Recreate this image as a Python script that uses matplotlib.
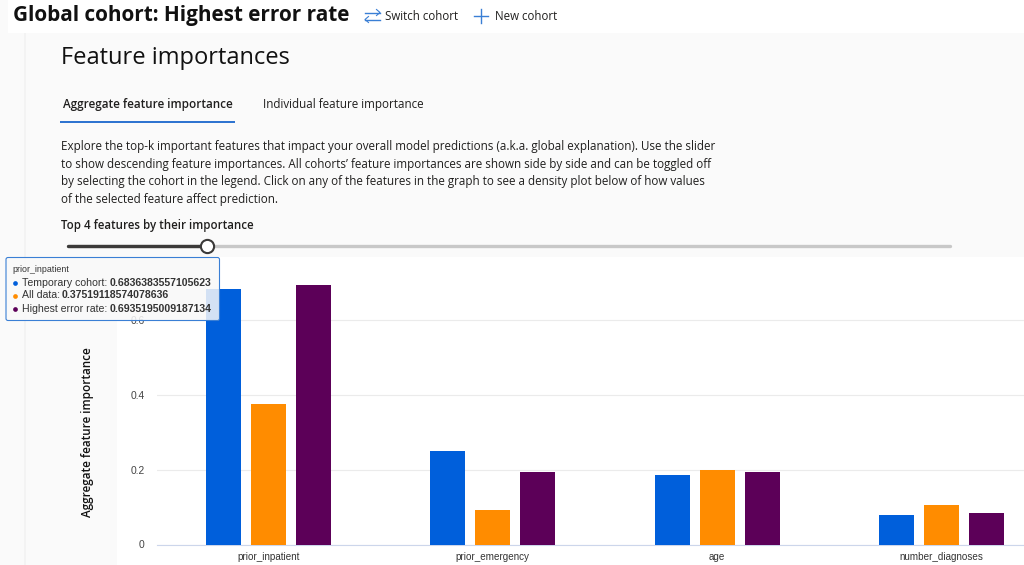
"""Feature importances dashboard screenshot"""

import matplotlib
matplotlib.use('Agg')
import matplotlib.pyplot as plt
from matplotlib.patches import FancyBboxPatch, Rectangle
import numpy as np

features = ['prior_inpatient', 'prior_emergency', 'age', 'number_diagnoses']
cohorts = ['Temporary cohort', 'All data', 'Highest error rate']
temporary_cohort = [0.6836383557105623, 0.25, 0.185, 0.08]
all_data = [0.37519118574078636, 0.093, 0.2, 0.106]
highest_error = [0.6935195009187134, 0.195, 0.195, 0.085]
y_ticks = [0, 0.2, 0.4, 0.6]
y_tick_labels = ['0', '0.2', '0.4', '0.6']
tooltip_values = ['0.6836383557105623', '0.37519118574078636', '0.6935195009187134']

description = [
    'Explore the top-k important features that impact your overall model predictions (a.k.a. global explanation). Use the slider',
    'to show descending feature importances. All cohorts\u2019 feature importances are shown side by side and can be toggled off',
    'by selecting the cohort in the legend. Click on any of the features in the graph to see a density plot below of how values',
    'of the selected feature affect prediction.',
]

BLUE = '#005fdb'
ORANGE = '#ff8c00'
PURPLE = '#5c0058'
UI_FONT = 'Open Sans'
CHART_FONT = 'Liberation Sans'

W, H = 1024, 565
fig = plt.figure(figsize=(W / 100, H / 100), dpi=100, facecolor='white')

# ページ全体はピクセル座標で描く
bg = fig.add_axes([0, 0, 1, 1], zorder=0)
bg.set_xlim(0, W)
bg.set_ylim(H, 0)
bg.axis('off')
bg.add_patch(Rectangle((0, 33), W, H - 33, fc='#fafafa', ec='none'))
bg.add_patch(Rectangle((0, 0), 8, 33, fc='#fafafa', ec='none'))
bg.add_patch(Rectangle((24, 33), 2, H - 33, fc='#f3f3f3', ec='none'))
bg.add_patch(Rectangle((117, 257), W - 117, H - 257, fc='white', ec='none'))

# 棒グラフ
left, right, top, bottom = 157, W, 257, 544.5
ax = fig.add_axes([left / W, 1 - bottom / H, (right - left) / W, (bottom - top) / H],
                  zorder=1, facecolor='none')
step = 224.3
ax.set_xlim((left - 268.5) / step, (right - 268.5) / step)
ax.set_ylim(0, (bottom - top) / 373.5)
x = np.arange(len(features))
bar_w = 35 / step
off = 45 / step
ax.bar(x - off, temporary_cohort, bar_w, color=BLUE, zorder=3)
ax.bar(x, all_data, bar_w, color=ORANGE, zorder=3)
ax.bar(x + off, highest_error, bar_w, color=PURPLE, zorder=3)
ax.set_xticks(x)
ax.set_xticklabels(features, fontsize=7.1, color='#333333', family=CHART_FONT)
ax.set_yticks(y_ticks)
ax.set_yticklabels(y_tick_labels, fontsize=7.4, color='#444444', family=CHART_FONT)
ax.tick_params(length=0)
ax.tick_params(axis='x', pad=5.5)
ax.tick_params(axis='y', pad=9)
ax.grid(axis='y', color='#ebebeb', lw=0.8, zorder=0)
for s in ['top', 'right', 'left']:
    ax.spines[s].set_visible(False)
ax.spines['bottom'].set_color('#ccd6eb')
ax.spines['bottom'].set_linewidth(0.8)

# 上に重ねるUI部品
ui = fig.add_axes([0, 0, 1, 1], zorder=2, facecolor='none')
ui.set_xlim(0, W)
ui.set_ylim(H, 0)
ui.axis('off')


def label(px, py, s, size, weight='normal', color='#201f1e', family=UI_FONT, **kw):
    ui.text(px, py, s, fontsize=size, fontweight=weight, color=color, family=family,
            va='center', ha=kw.pop('ha', 'left'), **kw)


label(13, 15.5, 'Global cohort: Highest error rate', 14.97, 'bold', '#111111')
ui.plot([365, 380], [12.5, 12.5], color='#3a7fd5', lw=1)
ui.plot([365, 380], [19.5, 19.5], color='#3a7fd5', lw=1)
ui.plot([376.5, 380, 376.5], [9.5, 12.5, 15.5], color='#3a7fd5', lw=0.8)
ui.plot([368.5, 365, 368.5], [16.5, 19.5, 22.5], color='#3a7fd5', lw=0.8)
label(385, 16, 'Switch cohort', 8.3)
ui.plot([474, 488], [16, 16], color='#3a7fd5', lw=1)
ui.plot([481, 481], [9, 23], color='#3a7fd5', lw=1)
label(495, 16, 'New cohort', 8.3)

label(61, 57.5, 'Feature importances', 17, 'medium', '#111111')
label(63, 104.5, 'Aggregate feature importance', 8.4, 'semibold')
label(263, 104.5, 'Individual feature importance', 8.4)
ui.add_patch(Rectangle((60, 121), 175, 2, fc='#2f74d0', ec='none'))

for i, line in enumerate(description):
    label(61, 146.5 + i * 17.6, line, 8.36)
label(61, 225.5, 'Top 4 features by their importance', 8.3, 'semibold')

# スライダー
ui.plot([68, 950], [245.5, 245.5], color='#c8c8c8', lw=2.4, solid_capstyle='round')
ui.plot([68, 207], [245.5, 245.5], color='#3b3a39', lw=2.4, solid_capstyle='round')
ui.plot([207], [245.5], 'o', ms=9.5, mfc='white', mec='#3b3a39', mew=1.5)

# ツールチップ
ui.add_patch(FancyBboxPatch((6, 257.5), 213.5, 63, boxstyle='round,pad=0,rounding_size=2',
                            fc='#f9f9f9', ec='none', alpha=0.85))
ui.add_patch(FancyBboxPatch((6, 257.5), 213.5, 63, boxstyle='round,pad=0,rounding_size=2',
                            fc='none', ec='#3a7fd5', lw=0.8))
label(12, 269.5, features[0], 6.4, color='#333333', family=CHART_FONT)
renderer = fig.canvas.get_renderer()
for i, (name, val, col) in enumerate(zip(cohorts, tooltip_values, [BLUE, ORANGE, PURPLE])):
    py = 282.5 + i * 13
    ui.plot([15], [py], 'o', ms=3.4, color=col, mew=0)
    t = ui.text(21.5, py, f'{name}: ', fontsize=7.6, color='#333333', family=CHART_FONT, va='center')
    bb = t.get_window_extent(renderer)
    ui.text(bb.x1 - 0.5, py, val, fontsize=7.6, fontweight='bold', color='#333333',
            family=CHART_FONT, va='center')

label(87.5, 432.5, 'Aggregate feature importance', 8.4, 'semibold', '#111111',
      rotation=90, ha='center', rotation_mode='anchor')

fig.savefig('out.png', dpi=100)
plt.close(fig)
